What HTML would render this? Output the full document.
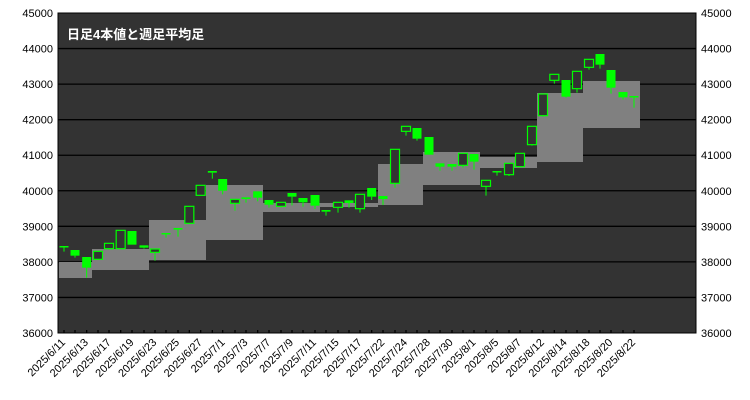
<!DOCTYPE html>
<html><head><meta charset="utf-8"><style>body{margin:0;background:#fff}svg{display:block}</style></head><body>
<svg width="750" height="400" xmlns="http://www.w3.org/2000/svg" font-family="Liberation Sans, sans-serif">
<rect x="58" y="13" width="638" height="320" fill="#333" stroke="#000"/>
<g id="grid" stroke="#000" stroke-width="1.3"></g>
<g id="boxes" fill="#808080"></g>
<g id="candles"></g>
<g id="ylab" font-size="11" fill="#000"></g>
<g id="xlab" font-size="11" fill="#000"></g>
<text x="67" y="39" font-size="13" font-weight="bold" fill="#fff" font-family="Liberation Sans, Noto Sans CJK JP, sans-serif">日足4本値と週足平均足</text>
</svg>
<script>
const ns="http://www.w3.org/2000/svg";
function el(p,t,a,txt){const e=document.createElementNS(ns,t);for(const k in a)e.setAttribute(k,a[k]);if(txt)e.textContent=txt;document.getElementById(p).appendChild(e);}
for(let i=0;i<=9;i++){const y=13+i*320/9;
 if(i>0&&i<9)el("grid","line",{x1:58,x2:696,y1:y,y2:y});
 el("ylab","text",{x:53,y:y+4,"text-anchor":"end"},String(45000-i*1000));
 el("ylab","text",{x:701,y:y+4},String(45000-i*1000));}
const boxes=[[59,92,262,278],[92,149,249,270],[149,206,220,260],[206,263,185,240],[263,320,203,212],[320,378,203,207],[378,423,164,205],[423,480,152,185],[480,537,157,168],[537,583,93,162],[583,640,81,128]];
boxes.forEach(b=>el("boxes","rect",{x:b[0],y:b[2],width:b[1]-b[0],height:b[3]-b[2]}));
const z1=[[42,288,292,305,1],[75,300,317,323,1],[110,321,353,383,1],[144,304,328,328,0],[177,280,296,299,0],[212,241,296,296,0],[246,243,284,284,1],[282,286,293,296,1],[315,297,307,332,0],[348,249,253,263,1],[384,234,239,260,1],[418,169,220,220,0],[452,106,136,136,0],[487,63,68,86,1],[518,87,122,133,1],[555,148,160,182,0],[588,142,147,158,1],[623,124,143,154,1],[657,150,164,173,1],[693,157,169,172,0],[726,129,140,166,1],[759,144,157,170,1],[795,135,167,177,1],[828,180,185,197,1],[864,157,172,188,0]];
const z2=[[27,481,489,503,1],[60,463,506,518,0],[95,444,470,480,1],[129,468,477,495,1],[165,328,430,443,0],[198,259,274,287,0],[231,264,296,302,1],[267,291,344,344,1],[300,370,380,392,1],[336,372,380,392,1],[369,340,376,383,0],[402,342,365,389,1],[438,421,439,467,0],[471,393,395,407,1],[507,370,404,408,0],[540,340,380,380,0],[576,259,314,317,0],[609,162,227,230,0],[643,103,121,131,0],[678,120,170,173,1],[711,94,146,158,0],[747,58,82,89,0],[780,42,74,86,1],[813,90,143,161,1],[849,156,172,179,1],[882,168,172,203,1]];
const c=[];z1.forEach(a=>c.push([50+a[0]/3,150+a[1]/3,150+a[2]/3,150+a[3]/3,a[4]]));
z2.forEach(a=>c.push([340+a[0]/3,40+a[1]/3,40+a[2]/3,40+a[3]/3,a[4]]));
c.forEach(a=>{const [x,t,b,w,f]=a;
 el("candles","line",{x1:x,x2:x,y1:b,y2:w,stroke:"#00ff00","stroke-width":1});
 let h=Math.max(b-t,1.5);
 el("candles","rect",{x:x-4.5,y:t,width:9,height:h,fill:f?"#00ff00":"#333",stroke:"#00ff00","stroke-width":f?0:1.2});
 el("grid","line",{x1:x,x2:x,y1:333,y2:330});
});
const labs=["6/11","6/13","6/17","6/19","6/23","6/25","6/27","7/1","7/3","7/7","7/9","7/11","7/15","7/17","7/22","7/24","7/28","7/30","8/1","8/5","8/7","8/12","8/14","8/18","8/20","8/22"];
labs.forEach((l,i)=>{const x=64+i*2*11.4;el("xlab","text",{x:x+2,y:343,"text-anchor":"end",transform:`rotate(-45 ${x+2} 343)`},"2025/"+l);});
</script>
</body></html>
